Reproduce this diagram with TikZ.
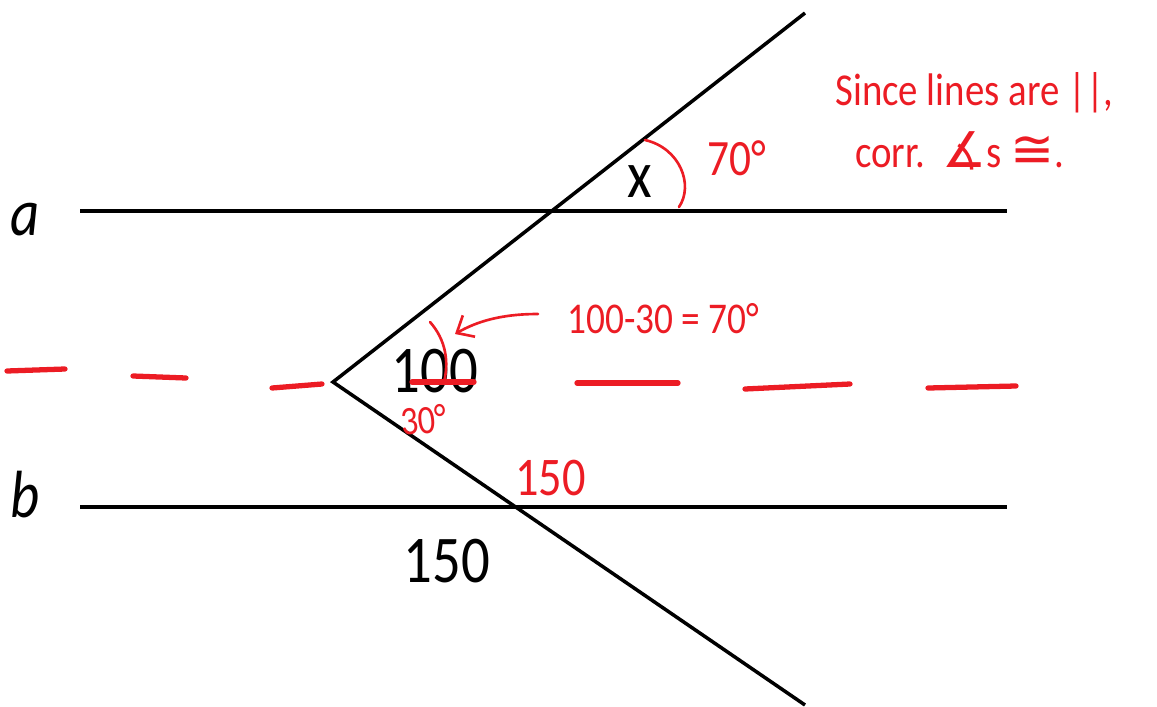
\documentclass[tikz,border=0pt]{standalone}
\usepackage{fontspec}
\setmainfont{Carlito}
\newfontfamily\labelfont[FakeStretch=0.85]{Carlito}
\newfontfamily\inkfont[FakeStretch=0.85]{Carlito}
\newfontfamily\symfont{DejaVu Sans}
\usetikzlibrary{arrows.meta}
\definecolor{inkred}{HTML}{EC1C24}

\begin{document}
\begin{tikzpicture}[
  x=0.02cm, y=-0.02cm,
  geoline/.style={draw, line width=2pt, line join=miter},
  inkline/.style={draw=inkred, line width=1.5pt, line cap=round},
  inkdash/.style={draw=inkred, line width=3pt, line cap=round},
  lbl/.style={font=\labelfont\fontsize{38}{40}\selectfont, inner sep=0pt, text depth=0pt, anchor=base},
  note/.style={text=inkred, inner sep=0pt, anchor=base west},
]
\useasboundingbox (0,0) rectangle (1157,707);

% the two parallel lines and the bent transversal
\coordinate (a1) at (80,211);
\coordinate (a2) at (1007,211);
\coordinate (b1) at (80,507);
\coordinate (b2) at (1007,507);
\coordinate (vtx) at (333,382);
\coordinate (top) at (805,13);
\coordinate (bot) at (805,705);
\draw[geoline] (a1) -- (a2);
\draw[geoline] (b1) -- (b2);
\draw[geoline] (top) -- (vtx) -- (bot);

\node[lbl, anchor=base west] (lbla) at (10,235) {\itshape a};
\node[lbl, anchor=base west] (lblb) at (10,517) {\itshape b};
\node[lbl] (lblx) at (640,197) {x};
\node[lbl] (lbl100) at (435,392) {100};
\node[lbl] (lbl150) at (447,582) {150};

% red ink: the helper line through the vertex
\foreach \xa/\ya/\xb/\yb in {7/371/65/369, 133/376/186/378, 272/388/322/384,
    412/382/474/382, 577/383/678/383, 745/389/850/384, 928/388/1016/386}
  \draw[inkdash] (\xa,\ya) -- (\xb,\yb);

% angle marks
\draw[inkline] (645,140) .. controls (680,148) and (694,185) .. (679,207);
\draw[inkline] (430,322) .. controls (446,340) and (449,362) .. (444,382);

\node[note, font=\inkfont\fontsize{29}{32}\selectfont] (n70) at (707,175) {70°};
\node[note, font=\inkfont\fontsize{25}{28}\selectfont] (ncalc) at (567,333) {100-30 = 70°};
\node[note, font=\inkfont\fontsize{23}{26}\selectfont, rotate=6] (n30) at (402,436) {30°};
\node[note, font=\inkfont\fontsize{31}{34}\selectfont] (n150) at (515,495) {150};
\node[note, font=\inkfont\fontsize{26}{30}\selectfont] (nsince) at (835,105) {Since lines are ||,};
\node[note, font=\inkfont\fontsize{26}{30}\selectfont] (ncorr) at (855,167)
    {corr.\ \ {\symfont\fontsize{28}{30}\selectfont ∡}s\ {\symfont\fontsize{30}{30}\selectfont ≅}.};

\coordinate (arrtail) at (538,314);
\coordinate (arrhead) at (455,334);
\draw[inkline, -{Straight Barb[length=8pt, width=14pt]}]
    (arrtail) .. controls (500,314) and (476,322) .. (arrhead);
\end{tikzpicture}
\end{document}
